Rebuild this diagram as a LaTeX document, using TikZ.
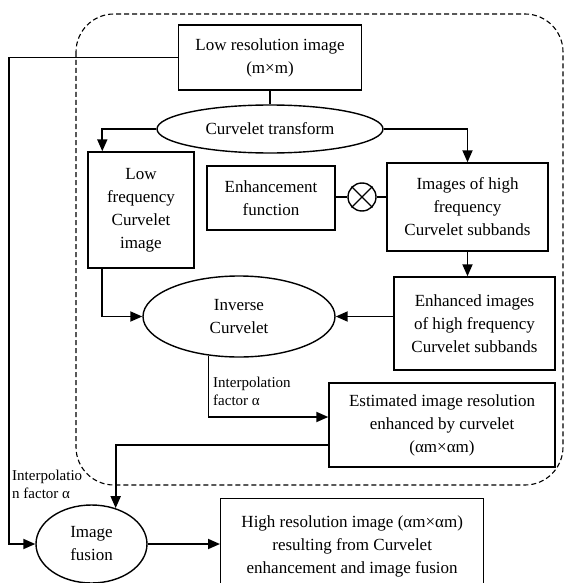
\documentclass[tikz,border=0pt]{standalone}
\usepackage{fontspec}
\setmainfont{Liberation Serif}
\usetikzlibrary{calc,shapes.geometric,arrows.meta}
\tikzset{
  box/.style={draw,line width=1.4pt,rectangle,align=center,inner sep=2pt,font=\fontsize{17}{23}\selectfont},
  ell/.style={draw,line width=1.4pt,ellipse,inner sep=0pt,align=center,font=\fontsize{17}{23}\selectfont},
  ln/.style={line width=1.4pt},
  arr/.style={line width=1.8pt,-{Triangle[length=12pt,width=10pt]}},
  lbl/.style={align=left,inner sep=0pt,font=\fontsize{15}{18}\selectfont},
  dash box/.style={line width=1.1pt,dash pattern=on 5pt off 3pt,rounded corners=38pt}
}
\begin{document}
\begin{tikzpicture}[x=1pt,y=-1pt]
\useasboundingbox (0,0) rectangle (566,583);
\draw[dash box] (76,14) rectangle (563,485);

\node[box,minimum width=183pt,minimum height=65pt] (top) at (270,57.5) {Low resolution image\\(m×m)};
\node[ell,minimum width=226pt,minimum height=48pt] (cur) at (270,129) {Curvelet transform};
\node[box,minimum width=106pt,minimum height=116pt] (lf) at (141,210) {Low\\frequency\\Curvelet\\image};
\node[box,minimum width=128pt,minimum height=64pt] (ef) at (271,198) {Enhancement\\function};
\node[draw,line width=1.4pt,circle,minimum size=28pt,inner sep=0pt] (mul) at (362,197) {};
\draw[line width=1.4pt] (mul.45) -- (mul.225) (mul.135) -- (mul.315);
\node[box,minimum width=161pt,minimum height=88pt] (img) at (467.5,207) {Images of high\\frequency\\Curvelet subbands};
\node[box,minimum width=161pt,minimum height=93pt] (enh) at (474.5,323.5) {Enhanced images\\of high frequency\\Curvelet subbands};
\node[ell,minimum width=192pt,minimum height=81pt] (inv) at (239,316.5) {Inverse\\Curvelet};
\node[box,minimum width=226pt,minimum height=84pt] (est) at (442,425) {Estimated image resolution\\enhanced by curvelet\\(αm×αm)};
\node[ell,minimum width=111pt,minimum height=78pt] (fus) at (91.5,544) {Image\\fusion};
\node[box,minimum width=263pt,minimum height=96pt,anchor=north west] (hr) at (220,498) {High resolution image (αm×αm)\\resulting from Curvelet\\enhancement and image fusion};

\node[lbl,anchor=north west] (l1) at (213,377) {Interpolation\\factor α};
\node[lbl,anchor=north west] (l2) at (12,470) {Interpolatio\\n factor α};

\draw[ln] (top.south) -- (top.south |- cur.north);
\draw[arr] (cur.west) -| ($(lf.north west)+(15,0)$);
\draw[arr] (cur.east) -| (img.north);
\draw[ln] (ef.east |- mul.west) -- (mul.west);
\draw[ln] (mul.east) -- (img.west |- mul.east);
\draw[arr] (img.south) -- (img.south |- enh.north);
\draw[arr] ($(lf.south west)+(15,0)$) |- (inv.west);
\draw[arr] (enh.west |- inv.east) -- (inv.east);
\draw[arr] (inv.232) |- ($(est.west)+(0,-8)$);
\draw[arr] ($(est.west)+(0,20)$) -| (fus.56);
\draw[arr] (top.west) -| ($(fus.west)+(-26,0)$) -- (fus.west);
\draw[arr] (fus.east) -- (hr.west |- fus.east);
\end{tikzpicture}
\end{document}
